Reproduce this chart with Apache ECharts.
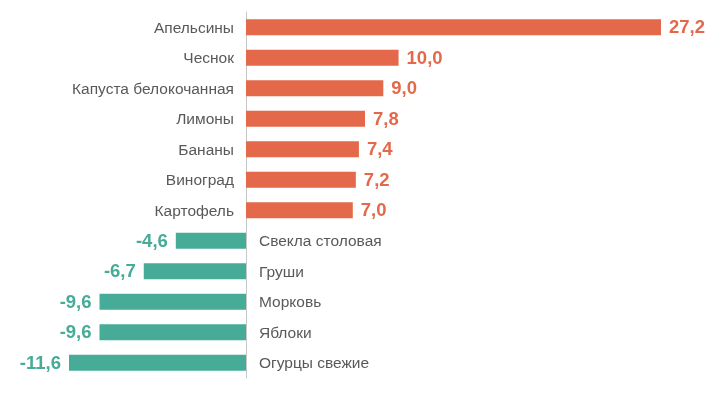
<!DOCTYPE html>
<html>
<head>
<meta charset="utf-8">
<script src="https://cdn.jsdelivr.net/npm/echarts@6/dist/echarts.min.js"></script>
<style>html,body{margin:0;padding:0;background:#fff;}#c{width:718px;height:393px;}</style>
</head>
<body>
<div id="c"></div>
<script>
const categories = ['Апельсины','Чеснок','Капуста белокочанная','Лимоны','Бананы','Виноград','Картофель','Свекла столовая','Груши','Морковь','Яблоки','Огурцы свежие'];
const values = [27.2, 10.0, 9.0, 7.8, 7.4, 7.2, 7.0, -4.6, -6.7, -9.6, -9.6, -11.6];
const posColor = '#E4694A';
const negColor = '#46AB97';
const FONT = "'Liberation Sans', Arial, sans-serif";
const fmt = v => v.toFixed(1).replace('.', ',');

const chart = echarts.init(document.getElementById('c'));
chart.setOption({
  animation: false,
  grid: {left: 69, right: 57, top: 12, bottom: 15},
  xAxis: {
    type: 'value', min: -11.6, max: 27.2,
    show: false
  },
  yAxis: {
    type: 'category', data: categories, inverse: true,
    axisLine: {onZero: true, lineStyle: {color: '#C8C8C8', width: 1}},
    axisTick: {show: false},
    axisLabel: {show: false}
  },
  series: [
    {
      type: 'bar', barWidth: 16,
      data: values.map(v => ({
        value: v,
        itemStyle: {color: v >= 0 ? posColor : negColor},
        label: {
          show: true,
          position: v >= 0 ? 'right' : 'left',
          distance: 8,
          offset: [0, 1],
          color: v >= 0 ? posColor : negColor,
          fontFamily: FONT,
          fontWeight: 'bold',
          fontSize: 18.5,
          formatter: () => fmt(v)
        }
      }))
    },
    {
      type: 'bar', barWidth: 16, barGap: '-100%', silent: true,
      data: values.map((v, i) => ({
        value: 0,
        itemStyle: {color: 'transparent'},
        label: {
          show: true,
          position: v >= 0 ? 'left' : 'right',
          distance: v >= 0 ? 12 : 13,
          offset: [0, 1],
          color: '#595959',
          fontFamily: FONT,
          fontSize: 15.5,
          formatter: () => categories[i]
        }
      }))
    }
  ]
});
</script>
</body>
</html>
